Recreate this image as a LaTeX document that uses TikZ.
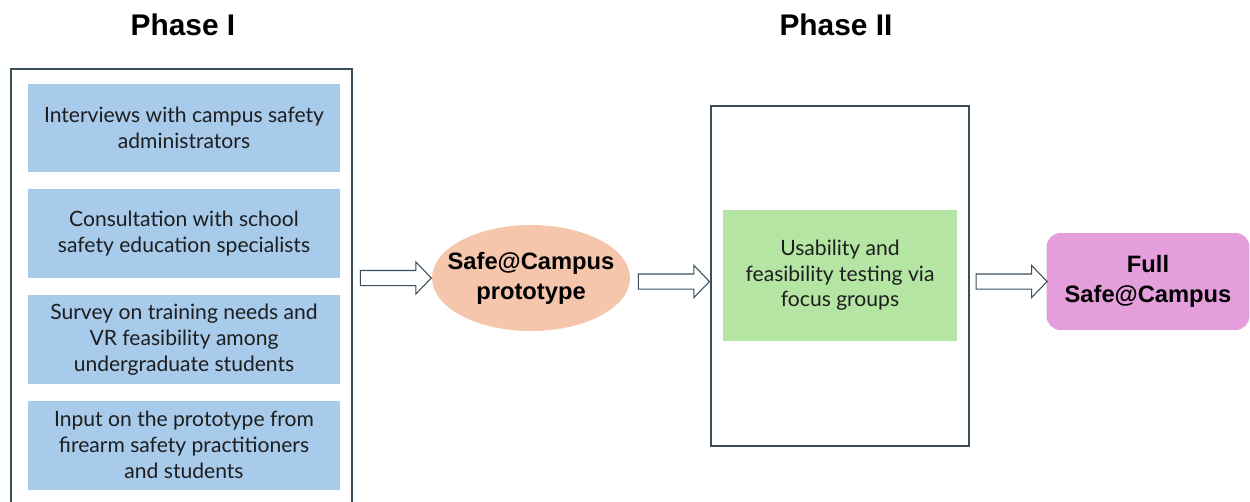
\documentclass[tikz,border=0pt]{standalone}
\usepackage{fontspec}
\setmainfont{Lato}
\newfontfamily\headfont{Liberation Sans}
\usetikzlibrary{positioning, calc, shapes.geometric, shapes.arrows}

\definecolor{framecol}{HTML}{3B4E5C}
\definecolor{stepblue}{HTML}{A8CAEB}
\definecolor{testgreen}{HTML}{B5E5A3}
\definecolor{protopeach}{HTML}{F6C6AC}
\definecolor{fullpink}{HTML}{E49EDC}
\definecolor{textcol}{HTML}{1E1E1E}

\tikzset{
  phaseframe/.style = {draw=framecol, line width=0.85pt, fill=white},
  phasetitle/.style = {font=\headfont\bfseries\fontsize{17}{20}\selectfont},
  stepbox/.style = {fill=stepblue, minimum width=6.24cm, minimum height=1.78cm,
    align=center, text=textcol, font=\fontsize{12}{14.8}\selectfont},
  testbox/.style = {fill=testgreen, minimum width=4.68cm, minimum height=2.62cm,
    align=center, text=textcol, font=\fontsize{12}{14.5}\selectfont},
  protonode/.style = {ellipse, fill=protopeach, minimum width=3.96cm, minimum height=2.12cm,
    inner xsep=-8pt, inner ysep=0pt,
    align=center, font=\headfont\bfseries\fontsize{13.5}{17}\selectfont},
  fullnode/.style = {rounded corners=0.28cm, fill=fullpink, minimum width=4.06cm,
    minimum height=1.94cm, align=center, font=\headfont\bfseries\fontsize{13.5}{17}\selectfont},
  blockarrow/.style = {single arrow, draw=framecol, line width=0.6pt, fill=white,
    minimum height=1.42cm, inner xsep=0pt, inner ysep=0.14cm,
    single arrow head extend=0.17cm, single arrow tip angle=92, anchor=center},
}

\begin{document}
\begin{tikzpicture}[x=0.02cm, y=-0.02cm]
\clip (0,0) rectangle (1250,501);

% phase I
\node[phaseframe, minimum width=6.82cm, minimum height=8.9cm] (phaseone) at (181.5,291.5) {};
\node[phasetitle] (titleone) at (183,25) {Phase I};

\node[stepbox] (interviews) at (184,128) {Interviews with campus safety\\administrators};
\node[stepbox, below=0.32cm of interviews] (consult) {Consultation with school\\safety education specialists};
\node[stepbox, below=0.32cm of consult] (survey) {Survey on training needs and\\VR feasibility among\\undergraduate students};
\node[stepbox, below=0.32cm of survey] (input) {Input on the prototype from\\firearm safety practitioners\\and students};

% prototype
\node[protonode] (proto) at (531,278) {Safe@Campus\\prototype};

% phase II
\node[phaseframe, minimum width=5.16cm, minimum height=6.8cm] (phasetwo) at (840,276) {};
\node[phasetitle] (titletwo) at (836,25) {Phase II};
\node[testbox] (testing) at (840,275.5) {Usability and\\feasibility testing via\\focus groups};

\node[fullnode] (full) at (1148,281.5) {Full\\Safe@Campus};

% arrows between the stages
\node[blockarrow] (arrowone) at ($(phaseone.east |- proto)!0.5!(proto.west)$) {};
\node[blockarrow, yshift=-0.07cm] (arrowtwo) at ($(proto.east)!0.5!(phasetwo.west |- proto)$) {};
\node[blockarrow] (arrowthree) at ($(phasetwo.east |- full)!0.5!(full.west)$) {};
\end{tikzpicture}
\end{document}
